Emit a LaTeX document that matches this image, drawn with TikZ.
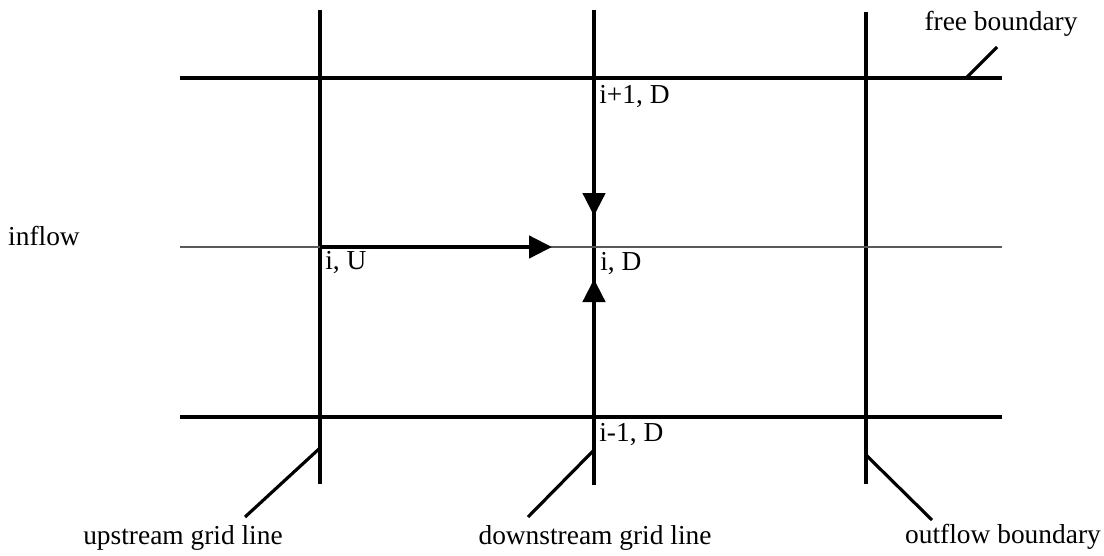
\documentclass[tikz,border=0pt]{standalone}
\usepackage{fontspec}
\setmainfont{Liberation Serif}
\usetikzlibrary{arrows.meta, positioning}

\begin{document}
\begin{tikzpicture}[x=0.02cm, y=-0.02cm, >={Triangle[length=0.46cm, width=0.44cm]},
		grid/.style={line width=2pt},
		midline/.style={line width=1.6pt, black!65},
		flow/.style={line width=2.6pt, ->},
		leader/.style={line width=1.8pt},
		lbl/.style={font=\fontsize{15.6}{18}\selectfont, inner sep=0pt}]
		
		\useasboundingbox (0,0) rectangle (1104,555);
		
		% Endpunkte der Gitterlinien
		\coordinate (up_t) at (320,10);
		\coordinate (up_b) at (320,484);
		\coordinate (dn_t) at (594,10);
		\coordinate (dn_b) at (594,485);
		\coordinate (out_t) at (866,12);
		\coordinate (out_b) at (866,484);
		\coordinate (top_l) at (180,78);
		\coordinate (top_r) at (1002,78);
		\coordinate (mid_l) at (180,247);
		\coordinate (mid_r) at (1002,247);
		\coordinate (bot_l) at (180,417);
		\coordinate (bot_r) at (1002,417);
		
		% Gitterpunkte
		\coordinate (iU) at (320,247);
		\coordinate (iD) at (594,247);
		\coordinate (ip1D) at (594,78);
		\coordinate (im1D) at (594,417);
		\coordinate (tipH) at (552,247);
		\coordinate (tipN) at (594,216);
		\coordinate (tipS) at (594,279);
		
		% Gitter
		\draw[grid] (up_t) -- (up_b);
		\draw[grid] (dn_t) -- (dn_b);
		\draw[grid] (out_t) -- (out_b);
		\draw[grid] (top_l) -- (top_r);
		\draw[midline] (mid_l) -- (mid_r);
		\draw[grid] (bot_l) -- (bot_r);
		
		% Pfeile
		\draw[flow] (iU) -- (tipH);
		\draw[flow] (ip1D) -- (tipN);
		\draw[flow] (im1D) -- (tipS);
		
		% Punktbeschriftungen
		\node[lbl, anchor=west] (l_ip1) at (599,97) {i+1, D};
		\node[lbl, anchor=west] (l_iD) at (600,264) {i, D};
		\node[lbl, anchor=west] (l_iU) at (325,263) {i, U};
		\node[lbl, anchor=west] (l_im1) at (599,435) {i-1, D};
		
		% Randbeschriftungen
		\node[lbl] (inflow) at (44,236) {inflow};
		\node[lbl] (free) at (1001,24) {free boundary};
		\node[lbl] (upstream) at (183,538) {upstream grid line};
		\node[lbl] (downstream) at (595,538) {downstream grid line};
		\node[lbl] (outflow) at (1003,537) {outflow boundary};
		
		% Hinweislinien
		\coordinate (free_a) at (997,47);
		\coordinate (free_b) at (966,78);
		\coordinate (up_a) at (245,517);
		\coordinate (up_c) at (320,448);
		\coordinate (dn_a) at (528,517);
		\coordinate (dn_c) at (594,450);
		\coordinate (out_a) at (932,520);
		\coordinate (out_c) at (866,455);
		\draw[leader] (free_a) -- (free_b);
		\draw[leader] (up_a) -- (up_c);
		\draw[leader] (dn_a) -- (dn_c);
		\draw[leader] (out_a) -- (out_c);
		
	\end{tikzpicture}
\end{document}
